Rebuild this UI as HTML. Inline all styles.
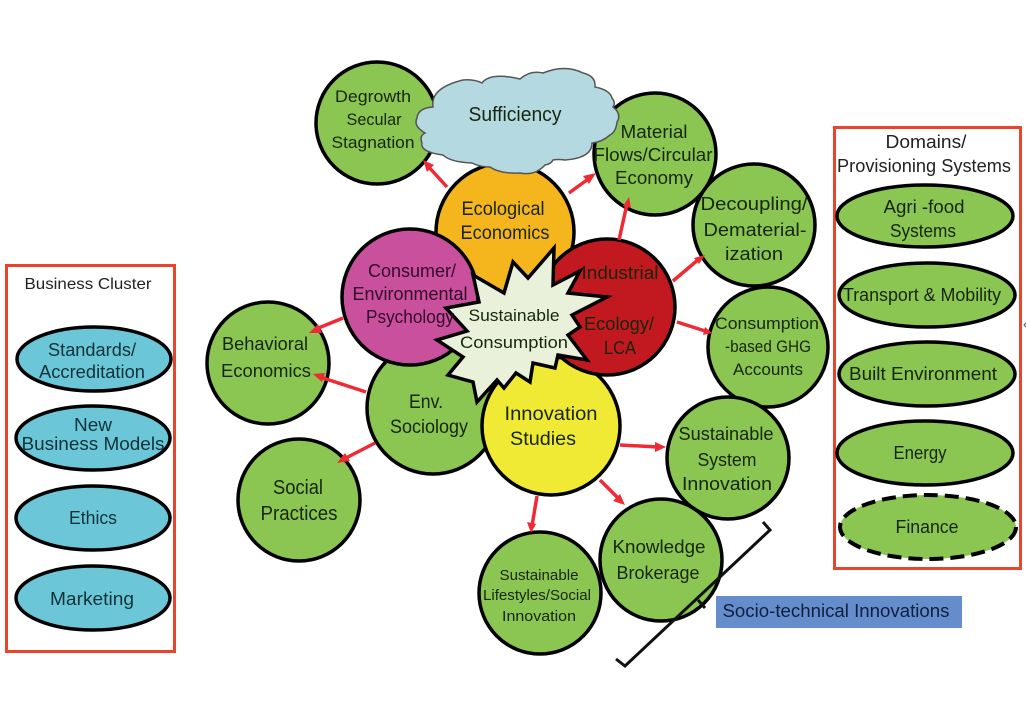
<!DOCTYPE html>
<html><head><meta charset="utf-8"><style>
html,body{margin:0;padding:0;background:#fff;width:1026px;height:704px;overflow:hidden}
svg{display:block}
text{font-family:"Liberation Sans",sans-serif;font-size:18px;fill:#17260f;text-anchor:middle}
.c{stroke:#000;stroke-width:3.5}
.a{stroke:#ee2a35;stroke-width:3.5;fill:none}
.h{fill:#ee2a35}
.g{fill:#8bc552}
.t{fill:#6bc7d8}
</style></head><body>
<svg width="1026" height="704" viewBox="0 0 1026 704" xmlns="http://www.w3.org/2000/svg">
<rect width="1026" height="704" fill="#fff"/>

<!-- panels -->
<rect x="6.500" y="265.500" width="168" height="386" fill="#fff" stroke="#e8452c" stroke-width="3"/>
<rect x="834.500" y="127.500" width="186" height="441" fill="#fff" stroke="#e8452c" stroke-width="3"/>

<!-- circles -->
<circle class="c g" cx="377" cy="123" r="61"/>
<circle class="c g" cx="655" cy="154" r="61"/>
<circle class="c" fill="#f5b61d" cx="505" cy="232" r="69"/>
<circle class="c g" cx="754" cy="225" r="61"/>
<circle class="c g" cx="768" cy="347" r="60"/>
<circle class="c g" cx="728" cy="458" r="61"/>
<circle class="c g" cx="661" cy="560" r="61"/>
<circle class="c g" cx="540" cy="593" r="61"/>
<circle class="c g" cx="268" cy="363" r="61"/>
<circle class="c g" cx="299" cy="500" r="61"/>
<circle class="c g" cx="433" cy="408" r="66"/>
<circle class="c" fill="#f1ea34" cx="551" cy="426" r="69"/>
<circle class="c" fill="#c9509c" cx="410" cy="297" r="68"/>
<circle class="c" fill="#c1191f" cx="607" cy="307" r="68"/>

<!-- connectors -->
<path class="a" d="M447 187L426 164"/><path class="h" d="M423 160L434 165L427 172Z"/>
<path class="a" d="M569 193L591 177"/><path class="h" d="M596 173L589 184L583 176Z"/>
<path class="a" d="M619 240L627 204"/><path class="h" d="M629 197L631 208L623 206Z"/>
<path class="a" d="M673 281L699 259"/><path class="h" d="M705 255L699 264L694 258Z"/>
<path class="a" d="M677 322L705 331"/><path class="h" d="M712 333L703 335L705 327Z"/>
<path class="a" d="M343 318L316 329"/><path class="h" d="M309 333L318 324L322 333Z"/>
<path class="a" d="M366 392L320 377"/><path class="h" d="M313 374L325 373L322 382Z"/>
<path class="a" d="M375 443L344 459"/><path class="h" d="M337 463L345 453L350 461Z"/>
<path class="a" d="M620 445L658 447"/><path class="h" d="M666 447L655 452L655 442Z"/>
<path class="a" d="M600 480L620 500"/><path class="h" d="M625 505L613 501L620 494Z"/>
<path class="a" d="M537 496L532 526"/><path class="h" d="M531 533L527 522L536 524Z"/>

<!-- cloud -->
<path fill="#b5d9e1" stroke="#555" stroke-width="1.500" d="M417 118Q418 108 433 107Q430 88 463 80Q474 79 482 83Q490 72 520 79Q530 70 543 73Q565 64 583 73Q596 76 595 87Q610 90 612 98Q616 103 613 107Q622 114 617 122Q616 132 610 135Q602 142 592 143Q592 158 565 160Q558 159 553 160Q551 164 545 165Q535 176 520 173Q500 174 490 167Q480 167 472 163Q450 162 443 155Q420 152 422 143Q419 136 425 133Q413 126 417 118Z"/>

<!-- star -->
<path fill="#eaf1da" stroke="#000" stroke-width="3.500" stroke-linejoin="miter" d="M554 248L553 285L580 271L568 293L607 297L572 315L580 327L568 335L587 360L558 355L555 368L533 363L530 382L516 373L504 388L497 380L477 402L473 382L448 375L463 357L437 340L467 331L446 308L479 302L473 275L504 293L513 262L528 278Z"/>

<!-- bracket -->
<path fill="none" stroke="#111" stroke-width="3" d="M763 522L770 530L625 666L616 659M698 600L705 608"/>
<rect x="716" y="596" width="246" height="32" fill="#668dcb"/>

<!-- right ellipses -->
<ellipse class="c g" cx="925" cy="216" rx="88" ry="31"/>
<ellipse class="c g" cx="927" cy="295" rx="88" ry="32"/>
<ellipse class="c g" cx="927" cy="374" rx="88" ry="32"/>
<ellipse class="c g" cx="925" cy="453" rx="88" ry="32"/>
<ellipse class="g" cx="928" cy="527" rx="88" ry="32" stroke="#000" stroke-width="4" stroke-dasharray="14 7"/>

<!-- left ellipses -->
<ellipse class="c t" cx="94" cy="359" rx="77" ry="32"/>
<ellipse class="c t" cx="93" cy="438" rx="77" ry="32"/>
<ellipse class="c t" cx="93" cy="518" rx="77" ry="32"/>
<ellipse class="c t" cx="93" cy="598" rx="77" ry="32"/>

<!-- labels -->
<g>
<text x="373" y="102" style="font-size:17px" textLength="76" lengthAdjust="spacingAndGlyphs">Degrowth</text>
<text x="374" y="125" style="font-size:17px" textLength="55" lengthAdjust="spacingAndGlyphs">Secular</text>
<text x="373" y="148" style="font-size:17px" textLength="83" lengthAdjust="spacingAndGlyphs">Stagnation</text>
<text x="515" y="121" style="font-size:20px" textLength="93" lengthAdjust="spacingAndGlyphs">Sufficiency</text>
<text x="503" y="215" style="font-size:19px" textLength="83" lengthAdjust="spacingAndGlyphs">Ecological</text>
<text x="505" y="239" style="font-size:19px" textLength="89" lengthAdjust="spacingAndGlyphs">Economics</text>
<text x="654" y="138" textLength="67" lengthAdjust="spacingAndGlyphs">Material</text>
<text x="653" y="161" textLength="119" lengthAdjust="spacingAndGlyphs">Flows/Circular</text>
<text x="654" y="184" textLength="78" lengthAdjust="spacingAndGlyphs">Economy</text>
<text x="754" y="210" textLength="107" lengthAdjust="spacingAndGlyphs">Decoupling/</text>
<text x="755" y="236" textLength="103" lengthAdjust="spacingAndGlyphs">Dematerial-</text>
<text x="754" y="260" textLength="58" lengthAdjust="spacingAndGlyphs">ization</text>
<text x="767" y="329" style="font-size:17px" textLength="104" lengthAdjust="spacingAndGlyphs">Consumption</text>
<text x="768" y="352" style="font-size:17px" textLength="86" lengthAdjust="spacingAndGlyphs">-based GHG</text>
<text x="768" y="375" style="font-size:17px" textLength="70" lengthAdjust="spacingAndGlyphs">Accounts</text>
<text x="620" y="279" textLength="77" lengthAdjust="spacingAndGlyphs">Industrial</text>
<text x="619" y="330" textLength="70" lengthAdjust="spacingAndGlyphs">Ecology/</text>
<text x="620" y="354" textLength="32" lengthAdjust="spacingAndGlyphs">LCA</text>
<text x="412" y="277" style="fill:#35092b" textLength="88" lengthAdjust="spacingAndGlyphs">Consumer/</text>
<text x="410" y="300" style="fill:#35092b" textLength="115" lengthAdjust="spacingAndGlyphs">Environmental</text>
<text x="410" y="323" style="fill:#35092b" textLength="88" lengthAdjust="spacingAndGlyphs">Psychology</text>
<text x="514" y="321" style="font-size:17px" textLength="91" lengthAdjust="spacingAndGlyphs">Sustainable</text>
<text x="514" y="348" style="font-size:17px" textLength="108" lengthAdjust="spacingAndGlyphs">Consumption</text>
<text x="426" y="408" style="font-size:19px" textLength="34" lengthAdjust="spacingAndGlyphs">Env.</text>
<text x="429" y="433" style="font-size:19px" textLength="78" lengthAdjust="spacingAndGlyphs">Sociology</text>
<text x="551" y="420" style="font-size:19px" textLength="93" lengthAdjust="spacingAndGlyphs">Innovation</text>
<text x="543" y="445" style="font-size:19px" textLength="66" lengthAdjust="spacingAndGlyphs">Studies</text>
<text x="265" y="350" textLength="86" lengthAdjust="spacingAndGlyphs">Behavioral</text>
<text x="266" y="377" textLength="90" lengthAdjust="spacingAndGlyphs">Economics</text>
<text x="298" y="494" style="font-size:20px" textLength="50" lengthAdjust="spacingAndGlyphs">Social</text>
<text x="299" y="520" style="font-size:20px" textLength="77" lengthAdjust="spacingAndGlyphs">Practices</text>
<text x="726" y="440" textLength="95" lengthAdjust="spacingAndGlyphs">Sustainable</text>
<text x="727" y="466" textLength="59" lengthAdjust="spacingAndGlyphs">System</text>
<text x="727" y="490" textLength="90" lengthAdjust="spacingAndGlyphs">Innovation</text>
<text x="659" y="553" textLength="93" lengthAdjust="spacingAndGlyphs">Knowledge</text>
<text x="658" y="579" textLength="83" lengthAdjust="spacingAndGlyphs">Brokerage</text>
<text x="539" y="580" style="font-size:15px" textLength="79" lengthAdjust="spacingAndGlyphs">Sustainable</text>
<text x="537" y="600" style="font-size:15px" textLength="108" lengthAdjust="spacingAndGlyphs">Lifestyles/Social</text>
<text x="539" y="621" style="font-size:15px" textLength="74" lengthAdjust="spacingAndGlyphs">Innovation</text>
<text x="836" y="617" style="fill:#0f1f3f" textLength="227" lengthAdjust="spacingAndGlyphs">Socio-technical Innovations</text>
<text x="926" y="148" style="fill:#222" textLength="81" lengthAdjust="spacingAndGlyphs">Domains/</text>
<text x="924" y="172" style="fill:#222" textLength="174" lengthAdjust="spacingAndGlyphs">Provisioning Systems</text>
<text x="924" y="213" textLength="81" lengthAdjust="spacingAndGlyphs">Agri -food</text>
<text x="923" y="237" textLength="66" lengthAdjust="spacingAndGlyphs">Systems</text>
<text x="922" y="301" textLength="158" lengthAdjust="spacingAndGlyphs">Transport &amp; Mobility</text>
<text x="923" y="380" textLength="148" lengthAdjust="spacingAndGlyphs">Built Environment</text>
<text x="920" y="459" textLength="53" lengthAdjust="spacingAndGlyphs">Energy</text>
<text x="927" y="533" textLength="63" lengthAdjust="spacingAndGlyphs">Finance</text>
<text x="88" y="289" style="font-size:16px;fill:#222" textLength="127" lengthAdjust="spacingAndGlyphs">Business Cluster</text>
<text x="92" y="356" style="fill:#12323a" textLength="88" lengthAdjust="spacingAndGlyphs">Standards/</text>
<text x="92" y="378" style="fill:#12323a" textLength="106" lengthAdjust="spacingAndGlyphs">Accreditation</text>
<text x="93" y="431" style="fill:#12323a" textLength="38" lengthAdjust="spacingAndGlyphs">New</text>
<text x="93" y="450" style="fill:#12323a" textLength="143" lengthAdjust="spacingAndGlyphs">Business Models</text>
<text x="93" y="524" style="fill:#12323a" textLength="48" lengthAdjust="spacingAndGlyphs">Ethics</text>
<text x="92" y="605" style="fill:#12323a" textLength="84" lengthAdjust="spacingAndGlyphs">Marketing</text>
</g>
<path d="M1027 322L1024 325L1027 328" fill="none" stroke="#555" stroke-width="1"/>
</svg>
</body></html>
